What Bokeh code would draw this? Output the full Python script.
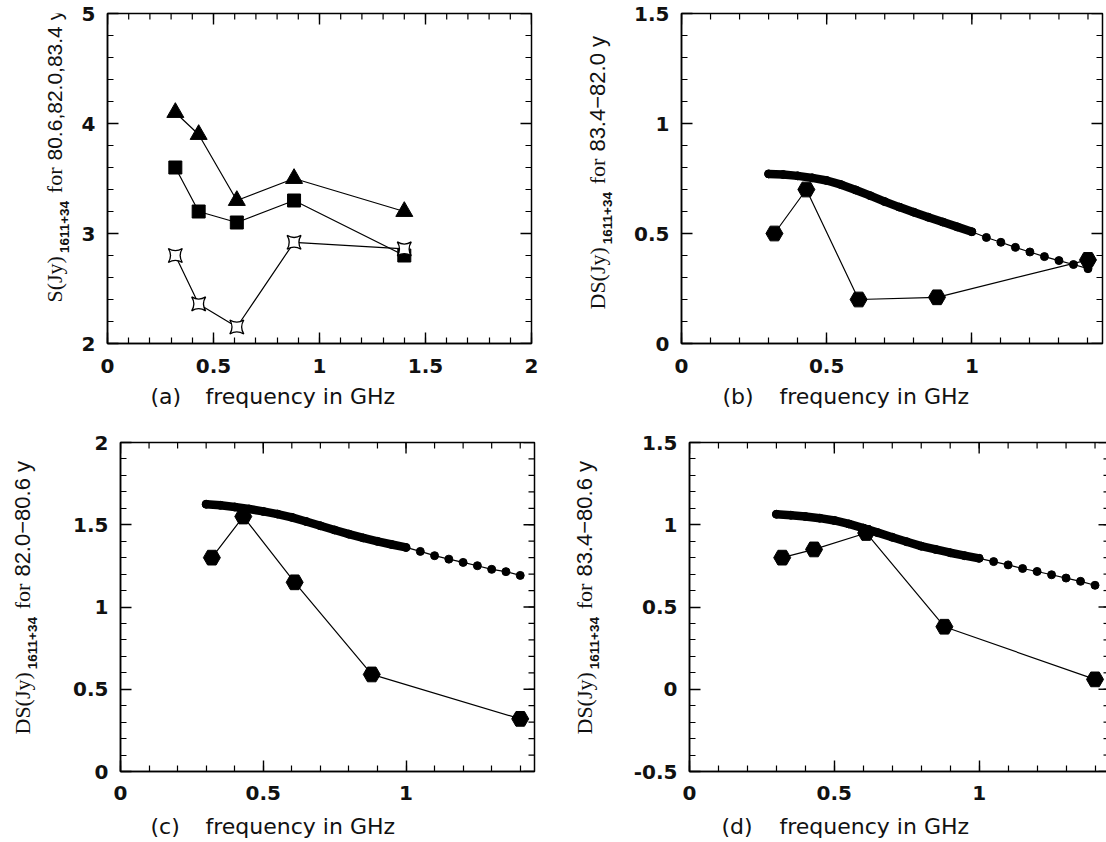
import math
import numpy as np
from bokeh.plotting import figure
from bokeh.models import Range1d, SingleIntervalTicker, NumeralTickFormatter, Label
from bokeh.layouts import row, column
from bokeh.embed import file_html
from bokeh.resources import INLINE

# ---------------- data ----------------
freq = [0.32, 0.43, 0.61, 0.88, 1.40]

# panel (a): flux densities S(Jy)
s_tri = [4.10, 3.90, 3.30, 3.50, 3.20]
s_sq = [3.60, 3.20, 3.10, 3.30, 2.80]
s_star = [2.80, 2.36, 2.15, 2.92, 2.86]

# panels (b),(c),(d): measured differences
ds_b = [0.50, 0.70, 0.20, 0.21, 0.38]
ds_c = [1.30, 1.55, 1.15, 0.59, 0.32]
ds_d = [0.80, 0.85, 0.95, 0.38, 0.06]

# model curves
model_x = [0.30, 0.35, 0.40, 0.45, 0.50, 0.55, 0.60, 0.65, 0.70, 0.75, 0.80,
           0.85, 0.90, 0.95, 1.00, 1.05, 1.10, 1.15, 1.20, 1.25, 1.30, 1.35, 1.40]
model_b = [0.771, 0.768, 0.762, 0.753, 0.741, 0.722, 0.698, 0.672, 0.645, 0.620, 0.597,
           0.574, 0.552, 0.530, 0.508, 0.482, 0.460, 0.437, 0.416, 0.395, 0.377, 0.359, 0.340]
model_c = [1.625, 1.618, 1.608, 1.596, 1.581, 1.565, 1.545, 1.520, 1.494, 1.468, 1.443,
           1.420, 1.399, 1.380, 1.362, 1.338, 1.312, 1.291, 1.271, 1.251, 1.229, 1.215, 1.192]
model_d = [1.064, 1.058, 1.050, 1.040, 1.026, 1.005, 0.980, 0.952, 0.924, 0.897, 0.870,
           0.850, 0.830, 0.812, 0.796, 0.776, 0.756, 0.734, 0.716, 0.696, 0.676, 0.656, 0.632]
dense_end = 1.0  # model is sampled densely up to here

panel_letters = ["(a)", "(b)", "(c)", "(d)"]
x_title = "frequency in GHz"
ylab_mid = ["80.6,82.0,83.4 y", "83.4\u221282.0 y", "82.0\u221280.6 y", "83.4\u221280.6 y"]
ylab_head = ["S(Jy)", "DS(Jy)", "DS(Jy)", "DS(Jy)"]
ylab_sub = "1611+34"

SERIF = "Liberation Serif"
SANS = "Liberation Sans"
TICKF = "DejaVu Sans"

W = {"S": .556, "(": .333, ")": .333, "J": .389, "y": .5, "D": .722, "f": .333,
     "o": .5, "r": .333, " ": .25, ".": .278, ",": .278, "\u2212": .584, "+": .584}


def tw(s, size):
    return sum(W.get(c, .556) for c in s) * size


def blank(w, h):
    s = figure(width=w, height=h, min_border=0, x_range=Range1d(0, w), y_range=Range1d(0, h),
               x_axis_type=None, y_axis_type=None, output_backend="svg",
               toolbar_location=None, tools="")
    s.grid.visible = False
    s.outline_line_color = None
    return s


def make_fig(xr, yr, yint, fl, fw, mr, mt, fh, mb, xstd):
    p = figure(frame_width=fw, frame_height=fh, min_border_left=fl, min_border_right=mr,
               min_border_top=mt, min_border_bottom=mb, x_range=Range1d(*xr), y_range=Range1d(*yr),
               output_backend="svg", toolbar_location=None, tools="")
    p.grid.visible = False
    p.outline_line_color = "black"
    p.outline_line_width = 1.5
    p.xaxis.ticker = SingleIntervalTicker(interval=0.5, num_minor_ticks=5)
    p.yaxis.ticker = SingleIntervalTicker(interval=yint, num_minor_ticks=5)
    for ax in p.axis:
        ax.major_tick_in = 11
        ax.major_tick_out = 0
        ax.minor_tick_in = 6
        ax.minor_tick_out = 0
        ax.major_tick_line_width = 1.4
        ax.minor_tick_line_width = 1.2
        ax.axis_line_width = 1.5
        ax.formatter = NumeralTickFormatter(format="0.[0]")
        ax.major_label_text_font = TICKF
        ax.major_label_text_font_size = "20px"
        ax.major_label_text_font_style = "bold"
        ax.major_label_text_color = "#111111"
    p.xaxis.major_label_standoff = xstd
    p.yaxis.major_label_standoff = 12
    # inward ticks on the top and right edges of the box
    xmaj = np.arange(xr[0], xr[1] + 1e-9, 0.5)
    xmin = np.arange(xr[0], xr[1] + 1e-9, 0.1)
    ymaj = np.arange(yr[0], yr[1] + 1e-9, yint)
    ymin = np.arange(yr[0], yr[1] + 1e-9, yint / 5)
    p.ray(x=xmaj, y=[yr[1]] * len(xmaj), length=11, length_units="screen", angle=-math.pi / 2,
          line_color="black", line_width=1.4)
    p.ray(x=xmin, y=[yr[1]] * len(xmin), length=6, length_units="screen", angle=-math.pi / 2,
          line_color="black", line_width=1.2)
    p.ray(x=[xr[1]] * len(ymaj), y=ymaj, length=11, length_units="screen", angle=math.pi,
          line_color="black", line_width=1.4)
    p.ray(x=[xr[1]] * len(ymin), y=ymin, length=6, length_units="screen", angle=math.pi,
          line_color="black", line_width=1.2)
    return p


def ylabel_strip(i, w, h, xb, xs, y0, dig):
    s = blank(w, h)
    y = y0
    pieces = [(ylab_head[i], SERIF, 22, "normal", xb, 3),
              (ylab_sub, SANS, 13.5, "bold", xs, 7),
              ("for", SERIF, 22, "normal", xb, 7),
              (ylab_mid[i], SANS, dig, "normal", xb, 0)]
    for text, font, size, style, x, gap in pieces:
        s.add_layout(Label(x=x, y=y, x_units="screen", y_units="screen", text=text,
                           angle=math.pi / 2, text_align="left", text_baseline="alphabetic",
                           text_font=font, text_font_size=f"{size}px",
                           text_font_style=style, text_color="#111111"))
        y += tw(text, size) + gap
    return s


def title_strip(h, items):
    s = blank(1106, h)
    for i, x0, x1, y in items:
        for text, x in ((panel_letters[i], x0), (x_title, x1)):
            s.add_layout(Label(x=x, y=y, x_units="screen", y_units="screen", text=text,
                               text_align="left", text_baseline="middle", text_font=TICKF,
                               text_font_size="22px", text_color="#111111"))
    return s


def model_layers(p, mx, my):
    dx = [x for x in mx if x <= dense_end + 1e-9]
    dy = [y for x, y in zip(mx, my) if x <= dense_end + 1e-9]
    p.line(mx, my, line_color="black", line_width=1.2)
    p.line(dx, dy, line_color="black", line_width=8.5, line_cap="round")
    p.scatter(mx, my, marker="circle", size=8, color="black")


def meas_layers(p, ys):
    p.line(freq, ys, line_color="black", line_width=1.2)
    p.scatter(freq, ys, marker="hex", size=17, color="black")


# (a)
pa = make_fig((0, 2), (2, 5), 1, 35, 424, 22, 13, 330, 36, 15)
pa.line(freq, s_tri, line_color="black", line_width=1.2)
pa.line(freq, s_sq, line_color="black", line_width=1.2)
pa.line(freq, s_star, line_color="black", line_width=1.2)
pa.scatter(freq, s_tri, marker="triangle", size=17, color="black")
pa.scatter(freq, s_sq, marker="square", size=13, color="black")
pa.scatter(freq, s_star, marker="square_pin", size=14, fill_color="white", line_color="black",
           line_width=1.3)

# (b)
pb = make_fig((0, 1.45), (0, 1.5), 0.5, 61, 421, 4, 13, 330, 36, 15)
model_layers(pb, model_x, model_b)
meas_layers(pb, ds_b)

# (c)
pc = make_fig((0, 1.45), (0, 2), 0.5, 41, 414, 28, 29, 329, 36, 14)
model_layers(pc, model_x, model_c)
meas_layers(pc, ds_c)

# (d)
pd_ = make_fig((0, 1.45), (-0.5, 1.5), 0.5, 80, 420, 6, 29, 329, 36, 14)
model_layers(pd_, model_x, model_d)
meas_layers(pd_, ds_d)

# row 1 height 379, row 2 height 394
ya = ylabel_strip(0, 72, 379, 54, 64, 41, 21)
yb = ylabel_strip(1, 67, 379, 44, 54, 34, 22)
yc = ylabel_strip(2, 70, 394, 22, 32, 37, 22)
yd = ylabel_strip(3, 47, 394, 22, 32, 37, 22)

ta = title_strip(34, [(0, 150, 205, 17), (1, 722, 779, 17)])
tc = title_strip(35, [(2, 150, 205, 16), (3, 721, 779, 16)])

layout = column(row(ya, pa, yb, pb), ta, row(yc, pc, yd, pd_), tc)
open("out.html", "w").write(file_html(layout, INLINE))
